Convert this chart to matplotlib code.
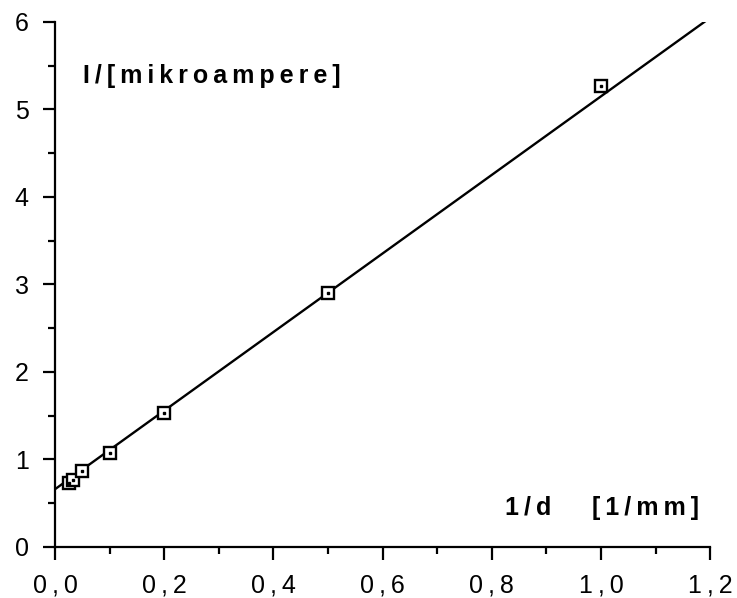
"""
Current vs. inverse distance, with straight line fit.
"""

import numpy as np
import matplotlib.pyplot as plt
from matplotlib.ticker import MultipleLocator, FuncFormatter

# data
inv_d = [0.025, 0.033, 0.05, 0.1, 0.2, 0.5, 1.0]      # 1/d [1/mm]
current = [0.73, 0.76, 0.87, 1.07, 1.53, 2.90, 5.27]  # I [microampere]

# straight line as drawn
fit_intercept = 0.66
fit_slope = 4.49
fit_x = [0.0, 1.2]

plt.rcParams['font.family'] = ['Liberation Sans', 'DejaVu Sans']

def comma_fmt(v, pos):
    s = '%.1f' % v
    return s.replace('.', '\u2009,\u2009')

def spaced(s):
    # letter spacing as in the original
    return '\u2009'.join(s)

plt.close('all')
fig = plt.figure(figsize=(7.37, 5.98), dpi=100)
ax = fig.add_axes([0.0746, 0.0853, 0.8890, 0.8780])

xx = np.array(fit_x)
ax.plot(xx, fit_intercept + fit_slope * xx, '-k', linewidth=1.7, zorder=2)
ax.plot(inv_d, current, 's', markersize=8.5, markerfacecolor='white',
        markeredgecolor='black', markeredgewidth=1.7, zorder=3)
ax.plot(inv_d, current, 's', markersize=1.5, color='black', zorder=4)

ax.set_xlim(0, 1.2)
ax.set_ylim(0, 6)
ax.xaxis.set_major_locator(MultipleLocator(0.2))
ax.xaxis.set_minor_locator(MultipleLocator(0.1))
ax.yaxis.set_major_locator(MultipleLocator(1))
ax.yaxis.set_minor_locator(MultipleLocator(0.5))
ax.xaxis.set_major_formatter(FuncFormatter(comma_fmt))

for side in ['top', 'right']:
    ax.spines[side].set_visible(False)
for side in ['left', 'bottom']:
    ax.spines[side].set_linewidth(1.6)
    ax.spines[side].set_clip_on(False)

ax.tick_params(which='major', direction='out', length=9, width=1.6,
               labelsize=18, pad=10)
ax.tick_params(which='minor', direction='out', length=5, width=1.6)

ax.text(0.051, 5.38, spaced('I/[mikroampere]'), fontsize=18,
        fontweight='bold', ha='left', va='center')
ax.text(0.824, 0.45, spaced('1/d'), fontsize=18,
        fontweight='bold', ha='left', va='center')
ax.text(0.984, 0.45, spaced('[1/mm]'), fontsize=18,
        fontweight='bold', ha='left', va='center')

fig.savefig('out.png', dpi=100)
